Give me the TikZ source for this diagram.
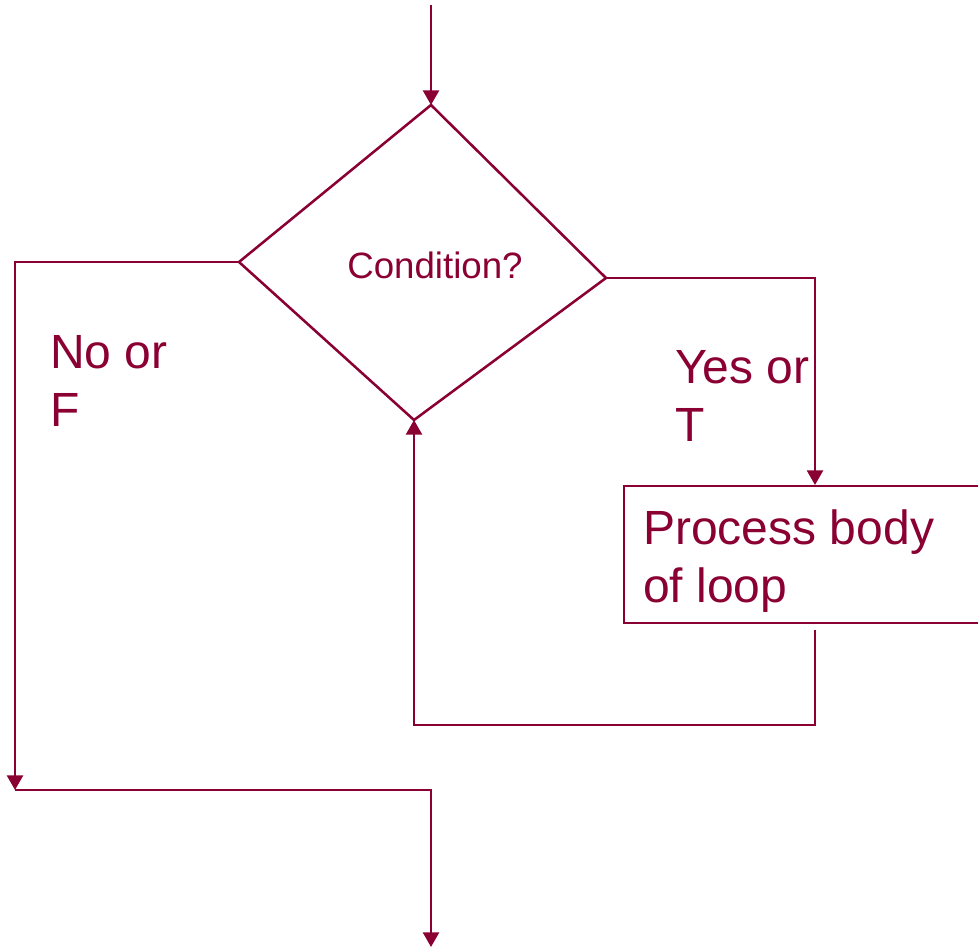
\documentclass[tikz,border=0pt]{standalone}
\usepackage{fontspec}
\setmainfont{Liberation Sans}
\usepackage{tikz}
\usetikzlibrary{arrows.meta}

\definecolor{loopred}{HTML}{8A0033}
\tikzset{
  flow/.style = {draw=loopred, line width=1.9pt},
  tip/.style = {-{Triangle[length=11pt,width=12pt]}},
  bigtext/.style = {text=loopred, inner sep=0pt, align=left,
    font=\fontsize{36}{43.5}\selectfont},
}

\begin{document}
\begin{tikzpicture}[x=0.75pt, y=-0.75pt]
  \clip (0,0) rectangle (978,949);
  % the decision, a skewed diamond
  \coordinate (start) at (431,5);
  \coordinate (top) at (431,105);
  \coordinate (left) at (239,262);
  \coordinate (right) at (606,278);
  \coordinate (bottom) at (414,420);
  \draw [flow] (top) -- (right) -- (bottom) -- (left) -- cycle;
  \node [text=loopred, font=\fontsize{27.5}{33}\selectfont] (cond) at (435,265) {Condition?};
  \draw [flow, tip] (start) -- (top);
  % false branch
  \coordinate (join) at (15,790);
  \coordinate (finish) at (431,947);
  \draw [flow, tip] (left) -| (join);
  \draw [flow, tip] (join) -| (finish);
  \node [bigtext, anchor=north west] (no) at (50,335) {No or\\F};
  % true branch and body
  \node [flow, minimum width=300pt, minimum height=102.75pt, anchor=north west,
         line width=1.3pt] (body) at (623,485) {};
  \coordinate (bodyin) at (815,485);
  \coordinate (bodyout) at (815,630);
  \coordinate (back) at (414,725);
  \draw [flow, tip] (right) -| (bodyin);
  \node [bigtext, anchor=north west] (yes) at (675,350) {Yes or\\T};
  \node [bigtext, anchor=north west] (proc) at (643,509) {Process body\\of loop};
  \draw [flow, tip] (bodyout) |- (back) -- (bottom);
\end{tikzpicture}
\end{document}
